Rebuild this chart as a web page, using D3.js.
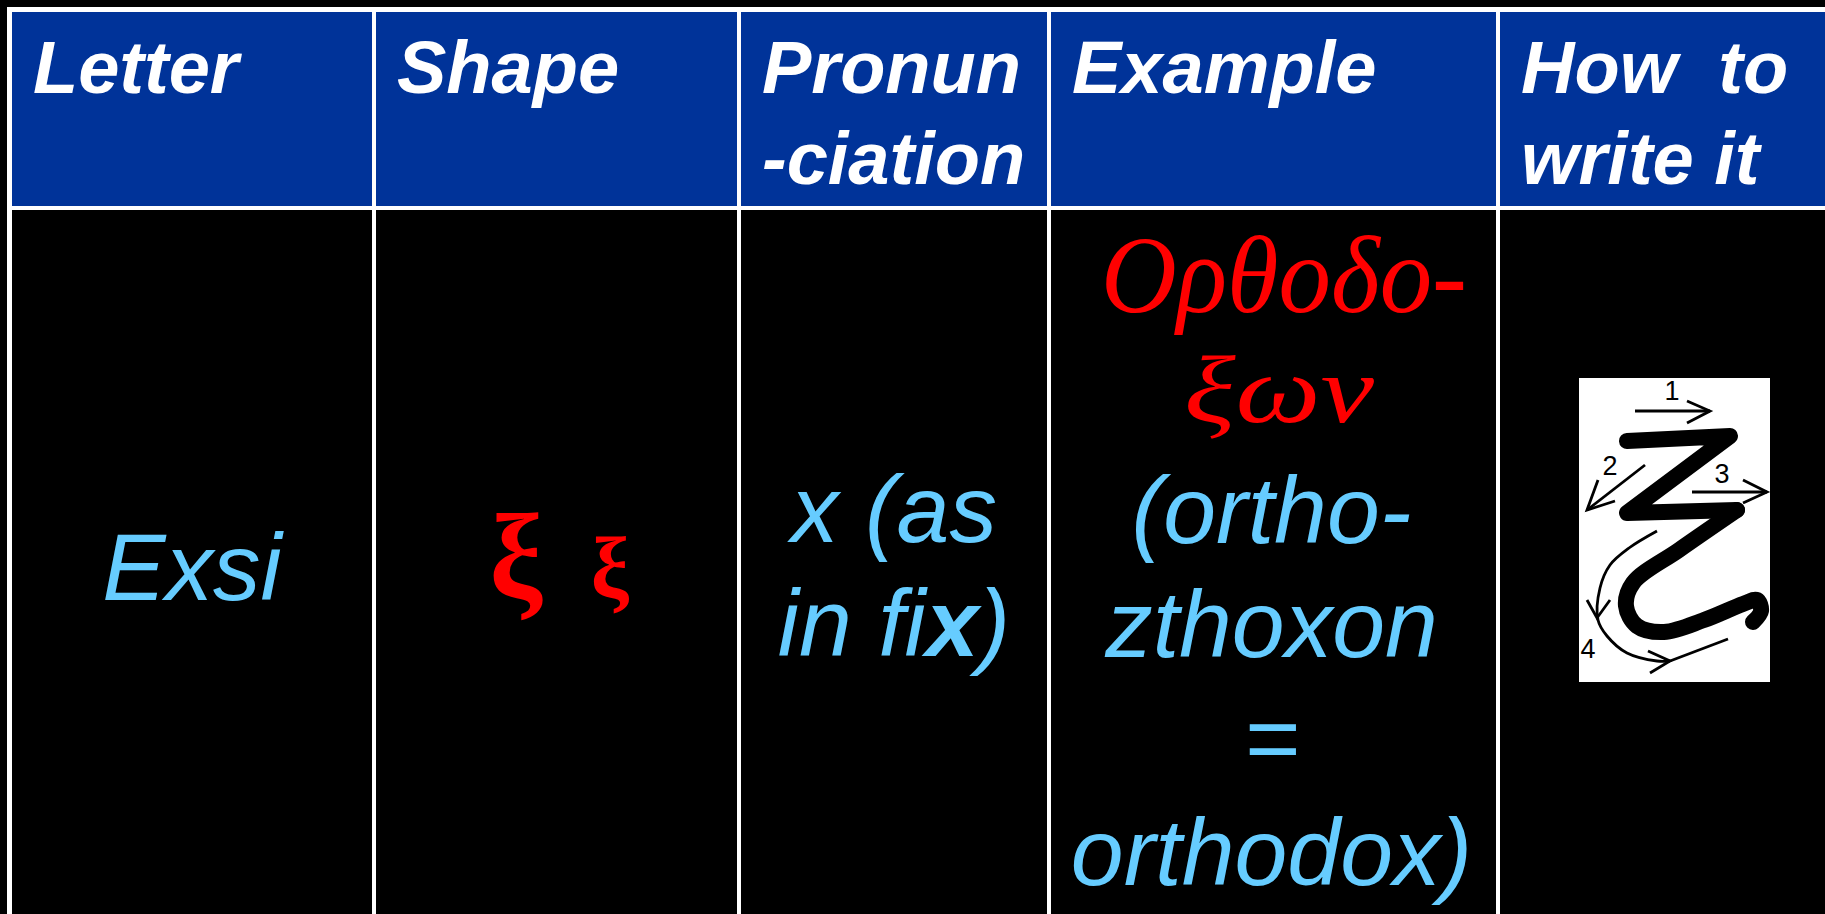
<!DOCTYPE html>
<html>
<head>
<meta charset="utf-8">
<script src="https://cdn.jsdelivr.net/npm/d3@7"></script>
<style>
  html, body { margin: 0; padding: 0; background: #000; overflow: hidden; }
  svg { display: block; }
  text { white-space: pre; }
</style>
</head>
<body>
<div id="chart"></div>
<script>
// ---------- data ----------
const headers = [["Letter"], ["Shape"], ["Pronun", "-ciation"], ["Example"], ["How  to", "write it"]];
const letterName = ["Exsi"];
const shapeGlyphs = ["ξ", "ξ"];
const pronunciationLines = [
  [{ t: "x (as", b: false }],
  [{ t: "in fi", b: false }, { t: "x", b: true }, { t: ")", b: false }]
];
const exampleGreek = ["Ορθοδο-", "ξων"];
const exampleLatin = ["(ortho-", "zthoxon", "=", "orthodox)"];
const strokeNumbers = ["1", "2", "3", "4"];

// ---------- layout ----------
const W = 1825, H = 914;
const colEdges = [12, 376, 741, 1051, 1500, 1830];
const gap = 4;
const headerTop = 12, headerBottom = 206, bodyTop = 210;
const BLUE = "#003399", CYAN = "#66ccff", RED = "#ff0000";
const SANS = "'Liberation Sans', Arial, Helvetica, sans-serif";
const SERIF = "'Liberation Serif', 'Times New Roman', serif";

const svg = d3.select("#chart").append("svg").attr("width", W).attr("height", H);
svg.append("rect").attr("width", W).attr("height", H).attr("fill", "#000");
// white grid background
svg.append("rect").attr("x", 7).attr("y", 7).attr("width", W).attr("height", H).attr("fill", "#fff");

const cols = d3.range(5).map(i => ({ x0: colEdges[i], x1: colEdges[i + 1] - gap, i }));
const cx = i => (cols[i].x0 + cols[i].x1) / 2;

svg.selectAll("rect.hdr").data(cols).enter().append("rect")
  .attr("class", "hdr").attr("x", d => d.x0).attr("y", headerTop)
  .attr("width", d => d.x1 - d.x0).attr("height", headerBottom - headerTop).attr("fill", BLUE);
svg.selectAll("rect.bdy").data(cols).enter().append("rect")
  .attr("class", "bdy").attr("x", d => d.x0).attr("y", bodyTop)
  .attr("width", d => d.x1 - d.x0).attr("height", H).attr("fill", "#000");

// header text
const hdrLine = 91, hdrBase = 93;
headers.forEach((lines, i) => {
  const t = svg.append("text")
    .attr("font-family", SANS).attr("font-weight", "bold").attr("font-style", "italic")
    .attr("font-size", 74).attr("fill", "#fff");
  lines.forEach((ln, j) => {
    t.append("tspan").attr("x", cols[i].x0 + 21).attr("y", hdrBase + j * hdrLine).text(ln);
  });
});

// body: Letter
const bodyFont = 95, bodyLine = 114;
svg.append("text").attr("x", cx(0)).attr("y", 600).attr("text-anchor", "middle")
  .attr("font-family", SANS).attr("font-style", "italic").attr("font-size", bodyFont)
  .attr("fill", CYAN).text(letterName[0]);

// body: Shape
const shapeSizes = [120, 86];
const shapeX = [516, 610];
shapeGlyphs.forEach((g, i) => {
  svg.append("text").attr("x", shapeX[i]).attr("y", 597).attr("text-anchor", "middle")
    .attr("font-family", SERIF).attr("font-weight", "bold").attr("font-size", shapeSizes[i])
    .attr("fill", RED).text(g);
});

// body: Pronunciation
pronunciationLines.forEach((parts, j) => {
  const t = svg.append("text").attr("x", cx(2)).attr("y", 542 + j * bodyLine)
    .attr("text-anchor", "middle").attr("font-family", SANS).attr("font-style", "italic")
    .attr("font-size", bodyFont).attr("fill", CYAN);
  parts.forEach(p => t.append("tspan").attr("font-weight", p.b ? "bold" : "normal").text(p.t));
});

// body: Example (Greek)
const greekCenters = [1284, 1279], greekBase = [312, 422], greekLen = [366, 190], greekSize = [110, 95];
exampleGreek.forEach((g, j) => {
  svg.append("text").attr("x", greekCenters[j]).attr("y", greekBase[j]).attr("text-anchor", "middle")
    .attr("font-family", SERIF).attr("font-style", "italic").attr("font-size", greekSize[j])
    .attr("textLength", greekLen[j]).attr("lengthAdjust", "spacingAndGlyphs")
    .attr("fill", RED).text(g);
});
exampleLatin.forEach((s, j) => {
  svg.append("text").attr("x", cx(3) - 2).attr("y", 543 + j * bodyLine).attr("text-anchor", "middle")
    .attr("font-family", SANS).attr("font-style", "italic").attr("font-size", bodyFont)
    .attr("fill", CYAN).text(s);
});

// body: How to write it (stroke-order illustration)
const ix = d3.scaleLinear().domain([0, 191]).range([1579, 1770]);
const iy = d3.scaleLinear().domain([0, 304]).range([378, 682]);
const icon = svg.append("g");
icon.append("rect").attr("x", ix(0)).attr("y", iy(0)).attr("width", ix(191) - ix(0))
  .attr("height", iy(304) - iy(0)).attr("fill", "#fff");

const lin = d3.line().x(d => ix(d[0])).y(d => iy(d[1]));
const crv = d3.line().x(d => ix(d[0])).y(d => iy(d[1])).curve(d3.curveCatmullRom.alpha(0.5));

const zTop = [[48, 63], [151, 58], [48, 135], [158, 132]];
const zTail = [[158, 132], [100, 172], [54, 205], [47, 228], [58, 248], [85, 254], [125, 242], [164, 226], [178, 222], [182, 233], [174, 244]];
icon.append("path").attr("d", lin(zTop)).attr("fill", "none").attr("stroke", "#000")
  .attr("stroke-width", 16).attr("stroke-linejoin", "round").attr("stroke-linecap", "round");
icon.append("path").attr("d", crv(zTail)).attr("fill", "none").attr("stroke", "#000")
  .attr("stroke-width", 16).attr("stroke-linejoin", "round").attr("stroke-linecap", "round");

const thin = [
  { p: [[56, 33], [131, 33]], c: false },
  { p: [[108, 23], [131, 33], [108, 45]], c: false },
  { p: [[66, 87], [8, 132]], c: false },
  { p: [[19, 102], [8, 132], [36, 123]], c: false },
  { p: [[113, 114], [188, 114]], c: false },
  { p: [[164, 102], [188, 114], [164, 125]], c: false },
  { p: [[78, 153], [50, 170], [31, 187], [21, 210], [19, 242], [28, 258], [48, 275], [78, 283], [91, 283]], c: true },
  { p: [[91, 283], [149, 261]], c: false },
  { p: [[8, 222], [18, 240], [31, 222]], c: false },
  { p: [[69, 273], [91, 283], [71, 295]], c: false }
];
thin.forEach(s => {
  icon.append("path").attr("d", (s.c ? crv : lin)(s.p)).attr("fill", "none")
    .attr("stroke", "#000").attr("stroke-width", 2.8);
});
const numPos = [[93, 22], [31, 97], [143, 105], [9, 280]];
strokeNumbers.forEach((n, i) => {
  icon.append("text").attr("x", ix(numPos[i][0])).attr("y", iy(numPos[i][1]))
    .attr("text-anchor", "middle").attr("font-family", "'Liberation Sans Narrow', " + SANS)
    .attr("font-size", 27).attr("fill", "#000").text(n);
});
</script>
</body>
</html>
